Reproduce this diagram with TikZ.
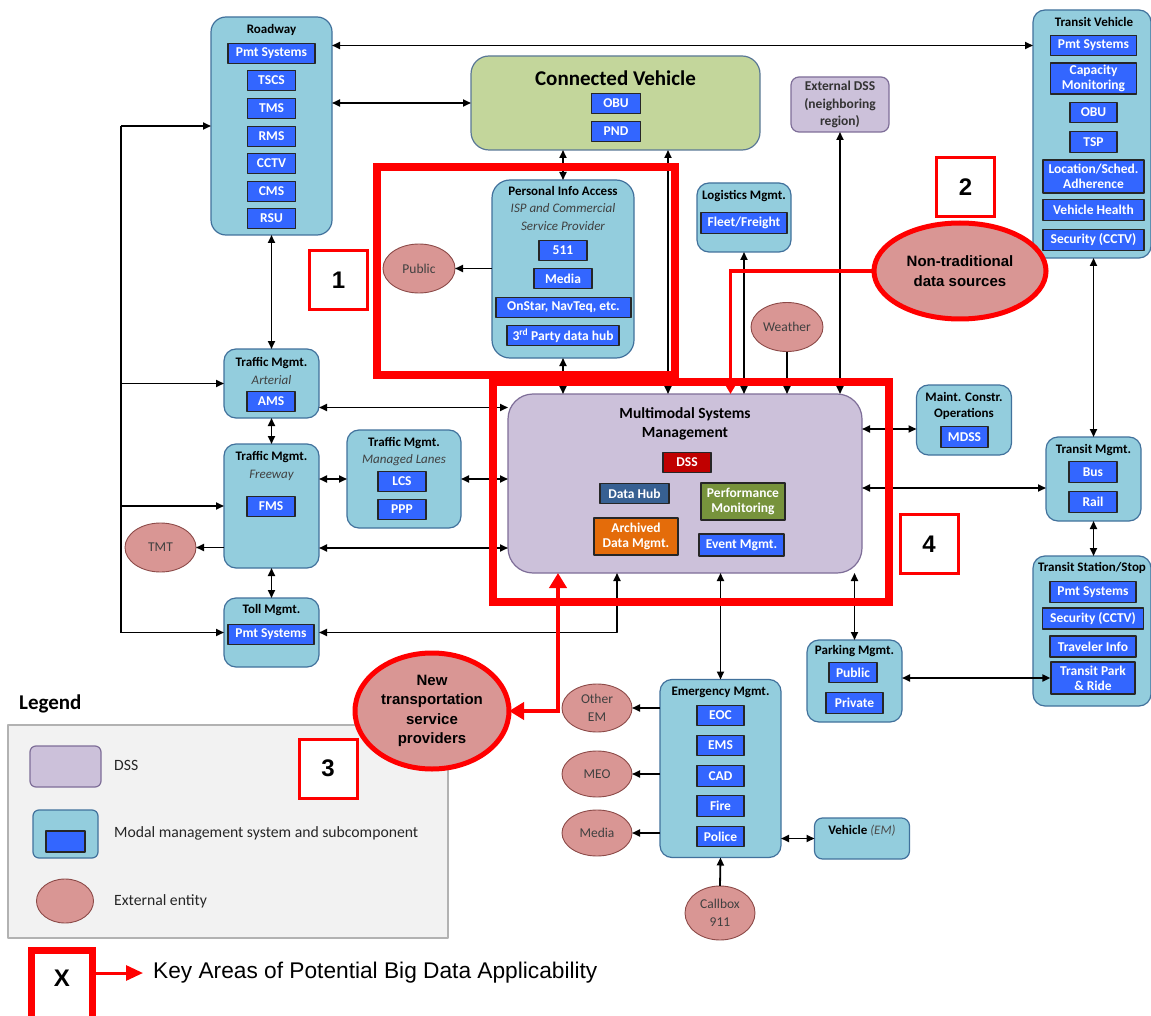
\documentclass[tikz,border=0pt]{standalone}
\usepackage{fontspec}
\setmainfont{Carlito}
\newfontfamily\arialfont{Liberation Sans}
\usetikzlibrary{arrows.meta,shapes.geometric,positioning}

\definecolor{sysfill}{HTML}{93CDDD}
\definecolor{sysedge}{HTML}{41719C}
\definecolor{subblue}{HTML}{3366FF}
\definecolor{entfill}{HTML}{D99694}
\definecolor{entedge}{HTML}{8C4A48}
\definecolor{dssfill}{HTML}{CCC1DA}
\definecolor{dssedge}{HTML}{7E6E98}
\definecolor{cvfill}{HTML}{C3D69B}
\definecolor{cvedge}{HTML}{5A7896}
\definecolor{legfill}{HTML}{F2F2F2}
\definecolor{hubblue}{HTML}{376092}
\definecolor{perfgreen}{HTML}{77933C}
\definecolor{archorange}{HTML}{E46C0A}
\definecolor{dssred}{HTML}{C00000}

\newcommand\ttlfnt{\bfseries\fontsize{13}{16}\selectfont}
\newcommand\subfnt{\bfseries\fontsize{13.5}{15}\selectfont}
\newcommand\itfnt{\itshape\fontsize{13}{18}\selectfont}
\newcommand\entfnt{\fontsize{13.5}{18}\selectfont}
\newcommand\bigfnt{\arialfont\bfseries\fontsize{15}{19.5}\selectfont}
\newcommand\keyfnt{\arialfont\bfseries\fontsize{24}{24}\selectfont}

\tikzset{
  sys/.style={draw=sysedge, fill=sysfill, line width=1.2pt, rounded corners=12pt, inner sep=0pt, outer sep=0pt},
  sub/.style={draw=black!85, fill=subblue, line width=1.2pt, text=white, font=\subfnt, minimum height=20.5, inner sep=0pt, align=center},
  ent/.style={ellipse, draw=entedge, fill=entfill, line width=0.9pt, text=black!75, font=\entfnt, inner sep=0pt, outer sep=0pt, align=center},
  hotent/.style={ent, draw=red, line width=5pt, text=black, font=\bigfnt},
  ttl/.style={font=\ttlfnt, align=center, inner sep=0pt},
  sttl/.style={font=\itfnt, text=black!75, align=center, inner sep=0pt},
  lnk/.style={line width=1.8pt},
  hot/.style={draw=red, line width=8pt, line join=miter},
  keybox/.style={draw=red, line width=3pt, fill=white, line join=miter, font=\keyfnt, minimum width=58, minimum height=59, inner sep=0pt},
  redarr/.style={draw=red, line width=4pt, line join=miter, {Triangle[length=15pt,width=17pt]}-{Triangle[length=15pt,width=17pt]}},
  legtxt/.style={anchor=west, font=\fontsize{15.7}{18}\selectfont, text=black!85, inner sep=0pt}
}

\begin{document}
\begin{tikzpicture}[x=1pt, y=-1pt, line join=round, >={Triangle[length=8pt,width=7pt]}]
\useasboundingbox (0,0) rectangle (1151,1016);
\fill[white] (0,0) rectangle (1151,1016);

% legend
\node[anchor=west, font=\bfseries\fontsize{21}{24}\selectfont, inner sep=0pt] (legT) at (19,704) {Legend};
\draw[fill=legfill, draw=black!30, line width=1.5pt] (8,725) rectangle (448,938);
\draw[fill=dssfill, draw=dssedge, line width=1.2pt, rounded corners=6pt] (30,746) rectangle (101,787);
\draw[fill=sysfill, draw=sysedge, line width=1.2pt, rounded corners=6pt] (33,810) rectangle (98,858);
\draw[fill=subblue, draw=black!85, line width=1.5pt] (46,831) rectangle (85,852);
\node[ent, minimum width=57, minimum height=44] (legE) at (65,901) {};
\node[legtxt] (legA) at (114,765) {DSS};
\node[legtxt] (legB) at (114,833) {Modal management system and subcomponent};
\node[legtxt] (legC) at (114,901) {External entity};

% roadway
\node[sys, rounded corners=15pt, minimum width=121, minimum height=218] (road) at (271.5,126) {};
\node[ttl] (roadT) at (271.5,30) {Roadway};
\foreach \t/\y/\w [count=\i] in {Pmt Systems/53.5/87,TSCS/80.5/48,TMS/108.5/48,RMS/136.5/48,CCTV/163.5/48,CMS/191.5/48,RSU/218.5/48}
  \node[sub, minimum width=\w] (road\i) at (271.5,\y) {\t};

% connected vehicle
\node[draw=cvedge, fill=cvfill, line width=1.2pt, rounded corners=18pt, minimum width=289, minimum height=94, inner sep=0pt, outer sep=0pt] (cv) at (615.5,103) {};
\node[font=\bfseries\fontsize{21}{22}\selectfont, inner sep=0pt] (cvT) at (615.5,78) {Connected Vehicle};
\node[sub, minimum width=49] (obu) at (616,103.5) {OBU};
\node[sub, minimum width=49] (pnd) at (616,131.5) {PND};

% external dss
\node[draw=dssedge, fill=dssfill, line width=1.2pt, rounded corners=8pt, minimum width=98, minimum height=55, inner sep=0pt, outer sep=0pt, font=\bfseries\fontsize{13.5}{17.5}\selectfont, text=black!80, align=center] (xdss) at (840,104.5) {External DSS\\(neighboring\\region)};

% transit vehicle
\node[sys, minimum width=118, minimum height=248] (tveh) at (1092,134) {};
\node[ttl] (tvehT) at (1094,22) {Transit Vehicle};
\foreach \t/\y/\w/\h [count=\i] in {Pmt Systems/45.5/86/20.5,Capacity\\Monitoring/78.5/86/31,OBU/112.5/47/20.5,TSP/142/47/20.5,{Location/Sched.\\Adherence}/176.5/101/33,Vehicle Health/210/101/21,Security (CCTV)/240/101/21}
  \node[sub, minimum width=\w, minimum height=\h] (tveh\i) at (1093.5,\y) {\t};

% personal info access
\node[sys, rounded corners=18pt, minimum width=142, minimum height=178] (pia) at (563,269) {};
\node[ttl] (piaT) at (563,191) {Personal Info Access};
\node[sttl] (piaS) at (563,217) {ISP and Commercial\\Service Provider};
\node[sub, minimum width=48] (pia1) at (563,250.5) {511};
\node[sub, minimum width=58] (pia2) at (563,278.5) {Media};
\node[sub, minimum width=135] (pia3) at (563.5,307.5) {OnStar, NavTeq, etc.};
\node[sub, minimum width=112] (pia4) at (563,335.5) {3\textsuperscript{rd} Party data hub};

% logistics
\node[sys, minimum width=94, minimum height=69] (logi) at (744,217.5) {};
\node[ttl] (logiT) at (744,196) {Logistics Mgmt.};
\node[sub, minimum width=86] (logi1) at (744,223) {Fleet/Freight};

% traffic management
\node[sys, minimum width=95, minimum height=69] (art) at (271.5,383.5) {};
\node[ttl] (artT) at (271.5,363) {Traffic Mgmt.};
\node[sttl] (artS) at (271.5,380) {Arterial};
\node[sub, minimum width=48] (art1) at (271,401.5) {AMS};

\node[sys, minimum width=95, minimum height=124] (fwy) at (271.5,506) {};
\node[ttl] (fwyT) at (271.5,457) {Traffic Mgmt.};
\node[sttl] (fwyS) at (271.5,475) {Freeway};
\node[sub, minimum width=48] (fwy1) at (271,506.5) {FMS};

\node[sys, minimum width=114, minimum height=98] (mlane) at (404,479) {};
\node[ttl] (mlaneT) at (404,443) {Traffic Mgmt.};
\node[sttl] (mlaneS) at (404,460) {Managed Lanes};
\node[sub, minimum width=48] (mlane1) at (402,481.5) {LCS};
\node[sub, minimum width=48] (mlane2) at (402,509.5) {PPP};

\node[sys, minimum width=95, minimum height=69] (toll) at (271.5,632.5) {};
\node[ttl] (tollT) at (271.5,610) {Toll Mgmt.};
\node[sub, minimum width=86] (toll1) at (271,634.5) {Pmt Systems};

% multimodal systems management
\node[draw=dssedge, fill=dssfill, line width=1.2pt, rounded corners=25pt, minimum width=354, minimum height=179, inner sep=0pt, outer sep=0pt] (msm) at (685,483.5) {};
\node[font=\bfseries\fontsize{15.5}{19}\selectfont, align=center, inner sep=0pt] (msmT) at (685,423.5) {Multimodal Systems\\Management};
\node[sub, fill=dssred, minimum width=48] (msm1) at (687,462.5) {DSS};
\node[sub, fill=hubblue, minimum width=69] (msm2) at (634.5,493.5) {Data Hub};
\node[sub, fill=perfgreen, minimum width=84, minimum height=37] (msm3) at (743,501.5) {Performance\\Monitoring};
\node[sub, fill=archorange, minimum width=84, minimum height=37] (msm4) at (636,536.5) {Archived\\Data Mgmt.};
\node[sub, minimum width=85, minimum height=22] (msm5) at (741.5,545) {Event Mgmt.};

% right side
\node[sys, minimum width=95, minimum height=70] (maint) at (964,420) {};
\node[ttl] (maintT) at (964,406) {Maint. Constr.\\Operations};
\node[sub, minimum width=47] (maint1) at (964.5,437) {MDSS};

\node[sys, minimum width=95, minimum height=84] (tmgmt) at (1093.5,479) {};
\node[ttl] (tmgmtT) at (1093.5,450) {Transit Mgmt.};
\node[sub, minimum width=48] (tmgmt1) at (1093,472) {Bus};
\node[sub, minimum width=48] (tmgmt2) at (1093,502) {Rail};

\node[sys, minimum width=118, minimum height=150] (tstat) at (1092,631) {};
\node[ttl] (tstatT) at (1092,568) {Transit Station/Stop};
\foreach \t/\y/\w/\h [count=\i] in {Pmt Systems/592/86/20.5,Security (CCTV)/618.5/101/21,Traveler Info/646.5/86/21,Transit Park\\\& Ride/678/84/32}
  \node[sub, minimum width=\w, minimum height=\h] (tstat\i) at (1093,\y) {\t};

\node[sys, minimum width=95, minimum height=82] (park) at (854.5,681) {};
\node[ttl] (parkT) at (854.5,651) {Parking Mgmt.};
\node[sub, minimum width=48] (park1) at (853,672.5) {Public};
\node[sub, minimum width=57] (park2) at (854.5,703) {Private};

% emergency
\node[sys, minimum width=121, minimum height=178] (emg) at (720.5,768.5) {};
\node[ttl] (emgT) at (720.5,692) {Emergency Mgmt.};
\foreach \t/\y [count=\i] in {EOC/715.5,EMS/745.5,CAD/776,Fire/806,Police/836.5}
  \node[sub, minimum width=47] (emg\i) at (720.5,\y) {\t};
\node[sys, rounded corners=8pt, minimum width=95, minimum height=41] (vem) at (862,838.5) {};
\node[ttl] (vemT) at (862,831) {Vehicle \textit{\mdseries\color{black!70}(EM)}};

% external entities
\node[ent, minimum width=72, minimum height=49] (pub) at (419,268.5) {Public};
\node[ent, minimum width=72, minimum height=49] (wx) at (787,327) {Weather};
\node[ent, minimum width=71, minimum height=49] (tmt) at (160.5,547.5) {TMT};
\node[ent, minimum width=70, minimum height=48] (oem) at (597,708) {Other\\EM};
\node[ent, minimum width=70, minimum height=46] (meo) at (597,774) {MEO};
\node[ent, minimum width=70, minimum height=46] (med) at (597,833) {Media};
\node[ent, minimum width=70, minimum height=54] (cbx) at (720,913) {Callbox\\911};

% connectors
\coordinate (bus) at (121,126);
\draw[lnk,->] (bus) -- (road.west);
\draw[lnk] (bus) -- (bus |- toll.west);
\foreach \n in {art,fwy,toll}
  \draw[lnk,->] (bus |- \n.west) -- (\n.west);
\draw[lnk,<->] (road.south) -- (art.north);
\draw[lnk,<->] (art.south) -- (fwy.north);
\draw[lnk,<->] (fwy.south) -- (toll.north);
\draw[lnk,->] (fwy.west |- tmt.east) -- (tmt.east);
\draw[lnk,<->] (fwy.east |- mlane.west) -- (mlane.west);
\draw[lnk,<->] (mlane.east) -- (mlane.east -| msm.west);
\draw[lnk,<->] ([yshift=-24pt]art.east) -- ([yshift=-24pt]art.east -| msm.west);
\draw[lnk,<->] ([yshift=-42pt]fwy.east) -- ([yshift=-42pt]fwy.east -| msm.west);
\draw[lnk,<->] (toll.east) -| ([xshift=-68pt]msm.south);
\draw[lnk,<->] (cv.west -| road.east) -- (cv.west);
\draw[lnk,<->] (tveh1.west -| road.east) -- (tveh1.west -| tveh.west);
\draw[lnk,<->] (pia.north) -- (pia.north |- cv.south);
\draw[lnk,->] (pia.west |- pub.east) -- (pub.east);
\draw[lnk,<->] (pia.south) -- (pia.south |- msm.north);
\draw[lnk,<->] ([xshift=52.5pt]cv.south) -- ([xshift=52.5pt]cv.south |- msm.north);
\draw[lnk,<->] (logi.south) -- (logi.south |- msm.north);
\draw[lnk,->] (wx.south) -- (wx.south |- msm.north);
\draw[lnk,<->] (xdss.south) -- (xdss.south |- msm.north);
\draw[lnk,<->] ([yshift=-9pt]maint.west -| msm.east) -- ([yshift=-9pt]maint.west);
\draw[lnk,<->] ([yshift=-9pt]tmgmt.west -| msm.east) -- ([yshift=-9pt]tmgmt.west);
\draw[lnk,<->] (tmgmt.north |- tveh.south) -- (tmgmt.north);
\draw[lnk,<->] (tmgmt.south) -- (tmgmt.south |- tstat.north);
\draw[lnk,<->] (park.north) -- (park.north |- msm.south);
\draw[lnk,<->] (park.east |- tstat4.west) -- (tstat4.west);
\draw[lnk,<->] (emg.north) -- (emg.north |- msm.south);
\foreach \n in {oem,meo,med}
  \draw[lnk,->] (emg.west |- \n.east) -- (\n.east);
\draw[lnk,<->] (emg.east |- vem.west) -- (vem.west);
\draw[lnk,->] (cbx.north) -- (emg.south);

% key areas
\draw[hot] (377,167) rectangle (675,375);
\draw[hot] (493,382) rectangle (889,602);
\node[hotent, minimum width=172, minimum height=96] (nt) at (960,271) {Non-traditional\\data sources};
\node[hotent, minimum width=154, minimum height=116] (nts) at (432,711) {New\\transportation\\service\\providers};
\draw[draw=red, line width=3.5pt, line join=miter, -{Triangle[length=11pt,width=12pt]}] (nt.west) -| ([xshift=45.5pt]msm.north);
\draw[redarr] (nts.east) -| ([xshift=-127pt]msm.south);
\node[keybox] (key1) at (338.5,280.5) {1};
\node[keybox] (key2) at (965.5,187.5) {2};
\node[keybox] (key3) at (328,768.5) {3};
\node[keybox] (key4) at (929,544) {4};

% key
\node[keybox, line width=7pt, minimum width=61, minimum height=80] (keyx) at (61.5,990) {};
\node[font=\keyfnt, inner sep=0pt] (keyxT) at (62,978) {X};
\node[anchor=west, inner sep=0pt, inner xsep=10pt, font=\arialfont\fontsize{22.7}{24}\selectfont] (keyT) at (143,973) {Key Areas of Potential Big Data Applicability};
\draw[draw=red, line width=3pt, line join=miter, -{Triangle[length=17pt,width=15pt]}] ([yshift=17pt]keyx.east) -- (keyT.west);
\end{tikzpicture}
\end{document}
